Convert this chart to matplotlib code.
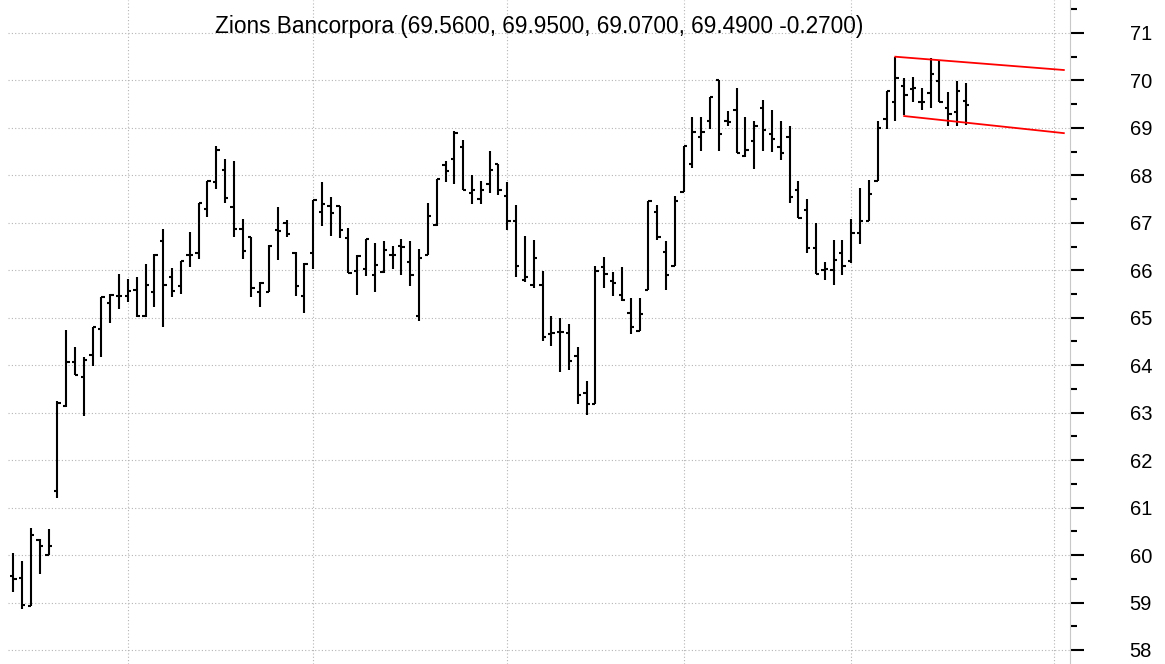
import numpy as np
import matplotlib.pyplot as plt
from matplotlib.ticker import MultipleLocator

plt.rcParams['font.family'] = ['Liberation Sans', 'DejaVu Sans']

# daily OHLC (oldest first)
opens = [59.55, 59.52, 58.93, 60.32, 60.00, 61.35, 63.14, 64.07, 63.76, 64.22,
         64.76, 65.32, 65.46, 65.45, 65.59, 65.03, 65.55, 66.62, 65.86, 65.67,
         66.32, 66.37, 67.29, 67.87, 68.11, 67.33, 66.86, 66.70, 65.55, 65.55,
         66.84, 67.00, 66.37, 65.46, 66.37, 67.22, 67.35, 67.35, 66.68, 65.98,
         66.03, 65.91, 65.96, 66.33, 66.51, 66.17, 65.04, 66.33, 66.96, 68.21,
         68.35, 68.59, 67.62, 67.51, 67.82, 68.23, 67.57, 67.03, 65.79, 65.69,
         65.70, 64.65, 64.70, 64.67, 64.20, 63.42, 63.19, 66.07, 65.78, 65.49,
         65.11, 64.73, 65.58, 67.22, 66.39, 66.09, 67.65, 68.25, 68.80, 69.15,
         70.00, 69.15, 69.38, 68.41, 68.73, 69.43, 68.87, 68.60, 68.80, 67.70,
         67.28, 66.46, 66.00, 66.00, 66.37, 66.20, 66.79, 67.03, 67.88, 69.19,
         69.54, 69.89, 69.82, 69.54, 69.74, 69.98, 69.43, 69.34, 69.56]
highs = [60.04, 59.88, 60.57, 60.33, 60.55, 63.25, 64.74, 64.38, 64.17, 64.81,
         65.43, 65.50, 65.93, 65.81, 65.86, 66.13, 66.35, 66.86, 66.04, 66.20,
         66.80, 67.42, 67.88, 68.62, 68.35, 68.30, 67.09, 66.71, 65.75, 66.54,
         67.33, 67.06, 66.38, 66.16, 67.49, 67.86, 67.55, 67.35, 66.89, 66.33,
         66.65, 66.58, 66.61, 66.52, 66.65, 66.61, 66.45, 67.42, 67.93, 68.31,
         68.93, 68.74, 68.00, 67.89, 68.51, 68.24, 67.86, 67.38, 66.73, 66.64,
         65.98, 65.03, 65.00, 64.87, 64.38, 63.66, 66.09, 66.27, 65.97, 66.06,
         65.42, 65.42, 67.47, 67.38, 66.61, 67.57, 68.61, 69.22, 69.22, 69.65,
         70.01, 69.36, 69.84, 69.22, 69.15, 69.58, 69.38, 69.15, 69.04, 67.89,
         67.50, 66.99, 66.18, 66.64, 66.64, 67.08, 67.74, 67.90, 69.15, 69.77,
         70.50, 70.05, 70.07, 69.84, 70.47, 70.42, 69.75, 69.98, 69.95]
lows = [59.22, 58.87, 58.93, 59.60, 60.00, 61.20, 63.11, 63.80, 62.94, 63.99,
        64.17, 64.88, 65.19, 65.33, 65.01, 65.01, 65.22, 64.81, 65.43, 65.50,
        66.08, 66.24, 67.13, 67.71, 67.41, 66.70, 66.24, 65.43, 65.22, 65.55,
        66.22, 66.70, 65.46, 65.09, 66.02, 66.94, 66.72, 66.68, 65.95, 65.47,
        65.88, 65.54, 65.95, 66.02, 65.91, 65.67, 64.93, 66.33, 66.94, 67.86,
        67.81, 67.69, 67.39, 67.39, 67.62, 67.58, 66.84, 65.85, 65.76, 65.62,
        64.52, 64.40, 63.85, 63.90, 63.19, 62.95, 63.18, 65.62, 65.45, 65.35,
        64.65, 64.72, 65.58, 66.64, 65.58, 66.09, 67.65, 68.16, 68.51, 68.97,
        68.51, 69.05, 68.47, 68.39, 68.13, 68.51, 68.49, 68.32, 67.42, 67.10,
        66.36, 65.93, 65.80, 65.68, 65.90, 66.16, 66.55, 67.03, 67.88, 68.97,
        69.15, 69.27, 69.54, 69.38, 69.41, 69.54, 69.03, 69.03, 69.07]
closes = [59.50, 58.94, 60.43, 60.20, 60.20, 63.20, 64.07, 63.80, 64.10, 64.81,
          65.43, 65.47, 65.46, 65.57, 65.03, 65.70, 66.33, 65.70, 65.56, 66.19,
          66.33, 67.41, 67.88, 68.53, 67.53, 66.88, 66.41, 65.62, 65.74, 66.51,
          66.83, 66.77, 65.67, 66.14, 67.48, 67.39, 67.20, 66.85, 65.95, 66.30,
          66.65, 66.11, 66.42, 66.33, 66.49, 65.91, 66.26, 67.15, 67.93, 68.09,
          68.89, 67.69, 67.70, 67.70, 68.12, 67.70, 67.03, 66.10, 65.86, 66.25,
          64.60, 64.67, 64.71, 64.09, 63.37, 63.19, 65.99, 65.93, 65.74, 65.38,
          64.80, 65.07, 67.45, 66.71, 65.90, 67.45, 68.61, 68.92, 68.92, 69.65,
          68.87, 69.13, 68.48, 68.54, 69.03, 68.95, 68.76, 68.48, 67.55, 67.11,
          66.48, 65.93, 66.02, 66.21, 66.09, 66.79, 67.03, 67.61, 68.99, 69.77,
          70.05, 69.70, 69.84, 69.54, 70.14, 69.54, 69.29, 69.77, 69.49]

# month separators (bar index) and the two channel lines
month_lines = [13, 34, 56, 76, 95, 118]
upper_x, upper_y = [100, 119.1], [70.50, 70.22]
lower_x, lower_y = [101, 119.1], [69.25, 68.89]

x = np.arange(len(opens))

fig = plt.figure(figsize=(11.65, 6.64), dpi=100)
ax = fig.add_axes([8 / 1165, 0, 1062 / 1165, 1])

ax.vlines(x, lows, highs, color='black', lw=1.5)
ax.hlines(opens, x - 0.38, x, color='black', lw=1.5)
ax.hlines(closes, x, x + 0.38, color='black', lw=1.5)

ax.plot(upper_x, upper_y, color='#ff0000', lw=1.3)
ax.plot(lower_x, lower_y, color='#ff0000', lw=1.3)

ax.set_xlim(-0.6, 119.8)
ax.set_ylim(57.705, 71.695)

ax.set_xticks(month_lines)
ax.tick_params(axis='x', length=0, labelbottom=False)

ax.yaxis.tick_right()
ax.yaxis.set_major_locator(MultipleLocator(1))
ax.yaxis.set_minor_locator(MultipleLocator(0.5))
ax.tick_params(axis='y', which='major', length=10, width=1.5, pad=33,
               labelsize=14.5, colors='black')
ax.tick_params(axis='y', which='minor', length=5, width=1.5, colors='black')

ax.grid(True, which='major', color='#b4b4b4', lw=0.8, linestyle=(0, (1, 2)))

for side in ['top', 'bottom', 'left']:
    ax.spines[side].set_visible(False)
ax.spines['right'].set_color('#c8c8c8')
ax.spines['right'].set_linewidth(0.8)

fig.text(215 / 1165, 1 - 33.3 / 664,
         'Zions Bancorpora (69.5600, 69.9500, 69.0700, 69.4900 -0.2700)',
         ha='left', va='baseline', fontsize=16.3)

fig.savefig('out.png', dpi=100)
